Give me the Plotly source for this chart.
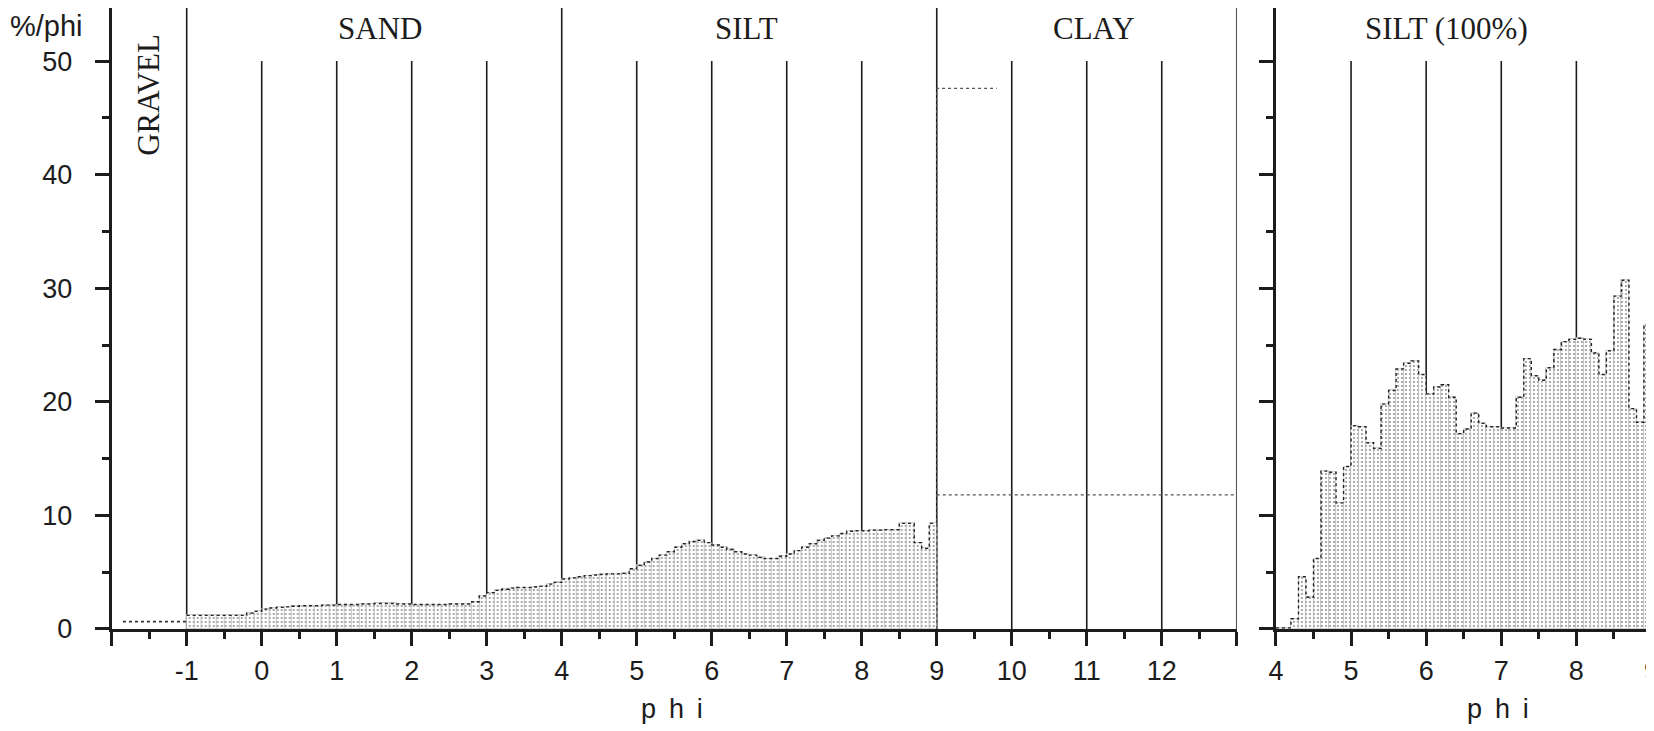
import numpy as np
import plotly.graph_objects as go

# --- data ---
bin_width = 0.1

# whole sample, %/phi, bins of 0.1 phi from -1 to 9
left_start = -1.0
left_vals = [1.2, 1.2, 1.2, 1.2, 1.2, 1.2, 1.2, 1.2, 1.4, 1.55,
             1.75, 1.85, 1.9, 1.95, 2.0, 2.05, 2.05, 2.05, 2.1, 2.1,
             2.15, 2.15, 2.15, 2.2, 2.2, 2.25, 2.25, 2.25, 2.2, 2.2,
             2.15, 2.15, 2.15, 2.15, 2.15, 2.2, 2.2, 2.2, 2.4, 2.9,
             3.2, 3.4, 3.5, 3.6, 3.65, 3.65, 3.7, 3.75, 3.95, 4.1,
             4.4, 4.5, 4.6, 4.7, 4.75, 4.8, 4.85, 4.85, 4.9, 5.3,
             5.6, 5.9, 6.2, 6.5, 6.8, 7.2, 7.5, 7.7, 7.8, 7.6,
             7.4, 7.2, 7.0, 6.8, 6.6, 6.5, 6.3, 6.2, 6.2, 6.4,
             6.6, 6.9, 7.2, 7.5, 7.8, 8.0, 8.2, 8.4, 8.6, 8.65,
             8.65, 8.7, 8.7, 8.75, 8.75, 9.3, 9.3, 7.6, 7.1, 9.3]

# silt fraction normalised to 100 %, bins of 0.1 phi from 4 to 9
right_start = 4.0
right_vals = [0.1, 0.1, 0.9, 4.6, 2.8, 6.2, 13.9, 13.8, 11.1, 14.3,
              17.9, 17.8, 16.4, 15.9, 19.8, 21.0, 22.9, 23.4, 23.6, 22.4,
              20.7, 21.3, 21.5, 20.4, 17.2, 17.6, 19.0, 18.1, 17.8, 17.8,
              17.7, 17.7, 20.4, 23.8, 22.3, 21.9, 23.0, 24.6, 25.3, 25.5,
              25.6, 25.5, 24.3, 22.4, 24.5, 29.3, 30.7, 19.4, 18.2, 26.8]

gravel_x = [-1.85, -1.0]
gravel_val = 0.65
clay_x = [9.0, 13.0]
clay_val = 11.8
clay_total_x = [9.0, 9.8]
clay_total = 47.6

class_bounds = [-1, 4, 9, 13]
phi_lines_left = [0, 1, 2, 3, 5, 6, 7, 8, 10, 11, 12]
phi_lines_right = [5, 6, 7, 8]
right_bounds = [9]

classes = [("SAND", 1.58, "x"), ("SILT", 6.47, "x"), ("CLAY", 11.1, "x"),
           ("SILT (100%)", 6.27, "x2")]

# --- figure ---
YTOP = 54.67
SANS = "Liberation Sans, Arial, sans-serif"
SERIF = "Liberation Serif, Times New Roman, serif"
INK = "#1c1c1c"
PHI = "p\u2009 h\u2009 i"


def histo(start, vals, xa, ya):
    edges = start + bin_width * np.arange(len(vals) + 1)
    centers = edges[:-1] + bin_width / 2
    bars = go.Bar(x=centers, y=vals, width=bin_width, xaxis=xa, yaxis=ya,
                  marker=dict(color="white", line=dict(width=0.7, color="#b8b8b8"),
                              pattern=dict(shape=".", size=4, solidity=0.22,
                                           fgcolor="#2a2a2a", bgcolor="white",
                                           fillmode="overlay")),
                  showlegend=False, hoverinfo="x+y")
    outline = go.Scatter(x=edges, y=list(vals) + [vals[-1]], mode="lines",
                         line=dict(shape="hv", dash="dot", width=1.4, color="#222"),
                         xaxis=xa, yaxis=ya, showlegend=False, hoverinfo="skip")
    return [bars, outline]


fig = go.Figure()
for tr in histo(left_start, left_vals, "x", "y"):
    fig.add_trace(tr)
for tr in histo(right_start, right_vals, "x2", "y2"):
    fig.add_trace(tr)

dotted = dict(dash="dot", width=1.2, color="#555")
fig.add_trace(go.Scatter(x=gravel_x, y=[gravel_val, gravel_val], mode="lines",
                         line=dict(dash="dot", width=1.6, color="#333"), showlegend=False))
fig.add_trace(go.Scatter(x=clay_x, y=[clay_val, clay_val], mode="lines",
                         line=dotted, showlegend=False))
fig.add_trace(go.Scatter(x=[clay_total_x[0], clay_total_x[0], clay_total_x[1]],
                         y=[0, clay_total, clay_total], mode="lines",
                         line=dotted, showlegend=False))

# vertical phi lines (class boundaries go to the top)
shapes = []
for v in phi_lines_left:
    shapes.append(dict(type="line", xref="x", yref="y", x0=v, x1=v, y0=0, y1=50,
                       line=dict(color=INK, width=1.6), layer="below"))
for v in class_bounds:
    shapes.append(dict(type="line", xref="x", yref="y", x0=v, x1=v, y0=0, y1=YTOP,
                       line=dict(color=INK, width=1.6), layer="below"))
for v in phi_lines_right:
    shapes.append(dict(type="line", xref="x2", yref="y2", x0=v, x1=v, y0=0, y1=50,
                       line=dict(color=INK, width=1.6), layer="below"))
for v in right_bounds:
    shapes.append(dict(type="line", xref="x2", yref="y2", x0=v, x1=v, y0=0, y1=YTOP,
                       line=dict(color=INK, width=1.6), layer="below"))

annotations = [dict(text="%/phi", xref="paper", yref="paper", x=0.0, y=1 - 18 / 731,
                    xanchor="left", yanchor="middle", showarrow=False,
                    font=dict(family=SANS, size=29, color=INK)),
               dict(text="GRAVEL", xref="x", yref="y", x=-1.52, y=47.0, textangle=-90,
                    showarrow=False, font=dict(family=SERIF, size=31, color=INK)),
               dict(text=PHI, xref="x", yref="paper", x=5.47, y=1 - 701 / 731,
                    yanchor="middle", showarrow=False,
                    font=dict(family=SANS, size=27, color=INK)),
               dict(text=PHI, xref="x2", yref="paper", x=6.95, y=1 - 701 / 731,
                    yanchor="middle", showarrow=False,
                    font=dict(family=SANS, size=27, color=INK))]
for name, xpos, xr in classes:
    annotations.append(dict(text=name, xref=xr, yref="y", x=xpos, y=52.86,
                            showarrow=False, font=dict(family=SERIF, size=31, color=INK)))

axis_common = dict(showline=True, linewidth=3, linecolor=INK, showgrid=False,
                   zeroline=False, ticks="outside", ticklen=14, tickwidth=3,
                   tickcolor=INK, automargin=False, ticklabeloverflow="allow",
                   tickfont=dict(family=SANS, size=27, color=INK))

left_ticks = list(range(-2, 14))
left_text = ["" if t in (-2, 13) else str(t) for t in left_ticks]

fig.update_layout(
    width=1654, height=731,
    margin=dict(l=0, r=0, t=0, b=0),
    paper_bgcolor="white", plot_bgcolor="white",
    bargap=0, barmode="overlay",
    shapes=shapes, annotations=annotations,
    xaxis=dict(domain=[0.0627, 0.7429], range=[-2, 13], anchor="y",
               tickmode="array", tickvals=left_ticks, ticktext=left_text,
               ticklabelstandoff=2,
               minor=dict(tickmode="array", tickvals=[t + 0.5 for t in range(-2, 13)],
                          ticks="outside", ticklen=7, tickwidth=3, tickcolor=INK),
               **axis_common),
    yaxis=dict(domain=[0.1505, 1], range=[0, YTOP], anchor="x",
               tickmode="array", tickvals=list(range(0, 51, 10)), ticklabelstandoff=17,
               minor=dict(tickmode="array", tickvals=list(range(5, 50, 10)),
                          ticks="outside", ticklen=7, tickwidth=3, tickcolor=INK),
               **axis_common),
    xaxis2=dict(domain=[0.7666, 1], range=[4, 9.14], anchor="y2",
                tickmode="array", tickvals=list(range(4, 10)), ticklabelstandoff=2,
                minor=dict(tickmode="array", tickvals=[t + 0.5 for t in range(4, 9)],
                           ticks="outside", ticklen=7, tickwidth=3, tickcolor=INK),
                **axis_common),
    yaxis2=dict(domain=[0.1505, 1], range=[0, YTOP], anchor="x2",
                tickmode="array", tickvals=list(range(0, 51, 10)), showticklabels=False,
                minor=dict(tickmode="array", tickvals=list(range(5, 50, 10)),
                           ticks="outside", ticklen=7, tickwidth=3, tickcolor=INK),
                **axis_common),
)

fig.write_html("out.html")
